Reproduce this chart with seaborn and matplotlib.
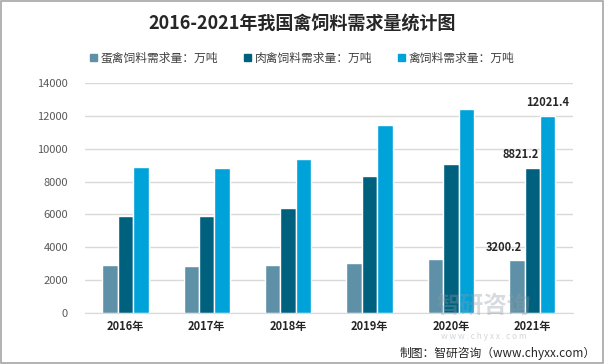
import matplotlib
matplotlib.use("Agg")
import matplotlib.pyplot as plt
import seaborn as sns
import pandas as pd
from matplotlib.patches import Rectangle

years = ["2016年", "2017年", "2018年", "2019年", "2020年", "2021年"]
egg = [2920, 2860, 2920, 3040, 3290, 3200.2]
meat = [5900, 5900, 6390, 8340, 9070, 8821.2]
total = [8890, 8830, 9370, 11440, 12420, 12021.4]
series = ["蛋禽饲料需求量：万吨", "肉禽饲料需求量：万吨", "禽饲料需求量：万吨"]
colors = ["#5E91A8", "#00617F", "#00A2DA"]

sns.set_style("white")
plt.rcParams['font.family'] = ['Noto Sans CJK SC', 'DejaVu Sans']

# long format for seaborn
df = pd.DataFrame({
    "year": years * 3,
    "value": egg + meat + total,
    "series": [series[0]] * 6 + [series[1]] * 6 + [series[2]] * 6,
})

fig = plt.figure(figsize=(6.05, 3.64), dpi=100)
ax = fig.add_axes([0.14, 0.14, 0.807, 0.632])
sns.barplot(data=df, x="year", y="value", hue="series", palette=colors,
            width=0.57, saturation=1, ax=ax, legend=False)

ax.set_ylim(0, 14000)
ax.set_yticks(range(0, 14001, 2000))
ax.yaxis.grid(True, color="#D9D9D9", linewidth=1)
ax.set_axisbelow(True)
for s in ["top", "right", "left"]:
    ax.spines[s].set_visible(False)
ax.spines["bottom"].set_color("#D9D9D9")
ax.set_xlabel("")
ax.set_ylabel("")
ax.tick_params(axis="y", labelsize=8, colors="#595959", length=0, pad=12)
ax.tick_params(axis="x", labelsize=8, length=0, pad=5)
for lb in ax.get_xticklabels():
    lb.set_fontweight("bold")
    lb.set_color("#262626")

# labels on the last group, shifted left like the original
shifts = [-0.16, -0.14, 0.0]
for cont, val, dx in zip(ax.containers, [egg[-1], meat[-1], total[-1]], shifts):
    bar = cont.patches[-1]
    ax.text(bar.get_x() + bar.get_width() / 2 + dx, val + 420,
            f"{val:.1f}", ha="center", va="bottom", fontsize=8,
            fontweight="bold", color="#262626")

# legend
handles = [Rectangle((0, 0), 1, 1, color=c) for c in colors]
fig.legend(handles, series, loc="center", bbox_to_anchor=(0.5, 0.84), ncol=3,
           frameon=False, fontsize=8.5, handlelength=0.6, handleheight=0.6,
           handletextpad=0.3, columnspacing=2.2, labelcolor="#404040")

fig.text(0.5, 0.935, "2016-2021年我国禽饲料需求量统计图", ha="center", va="center",
         fontsize=13, fontweight="bold", color="#262626")

# watermark + source
fig.text(0.8, 0.16, "智研咨询", ha="center", va="center", fontsize=17,
         color="#8E9AA6", alpha=0.35, fontweight="bold")
fig.text(0.8, 0.075, "w w w . c h y x x . c o m", ha="center", va="center",
         fontsize=6, color="#8E9AA6", alpha=0.4)
fig.text(0.985, 0.03, "制图：智研咨询（www.chyxx.com）", ha="right", va="center",
         fontsize=8.5, color="#262626")

fig.patches.append(Rectangle((0.002, 0.003), 0.995, 0.994, transform=fig.transFigure,
                             fill=False, edgecolor="#A6A6A6", linewidth=1.2))

fig.savefig("out.png", dpi=100)
